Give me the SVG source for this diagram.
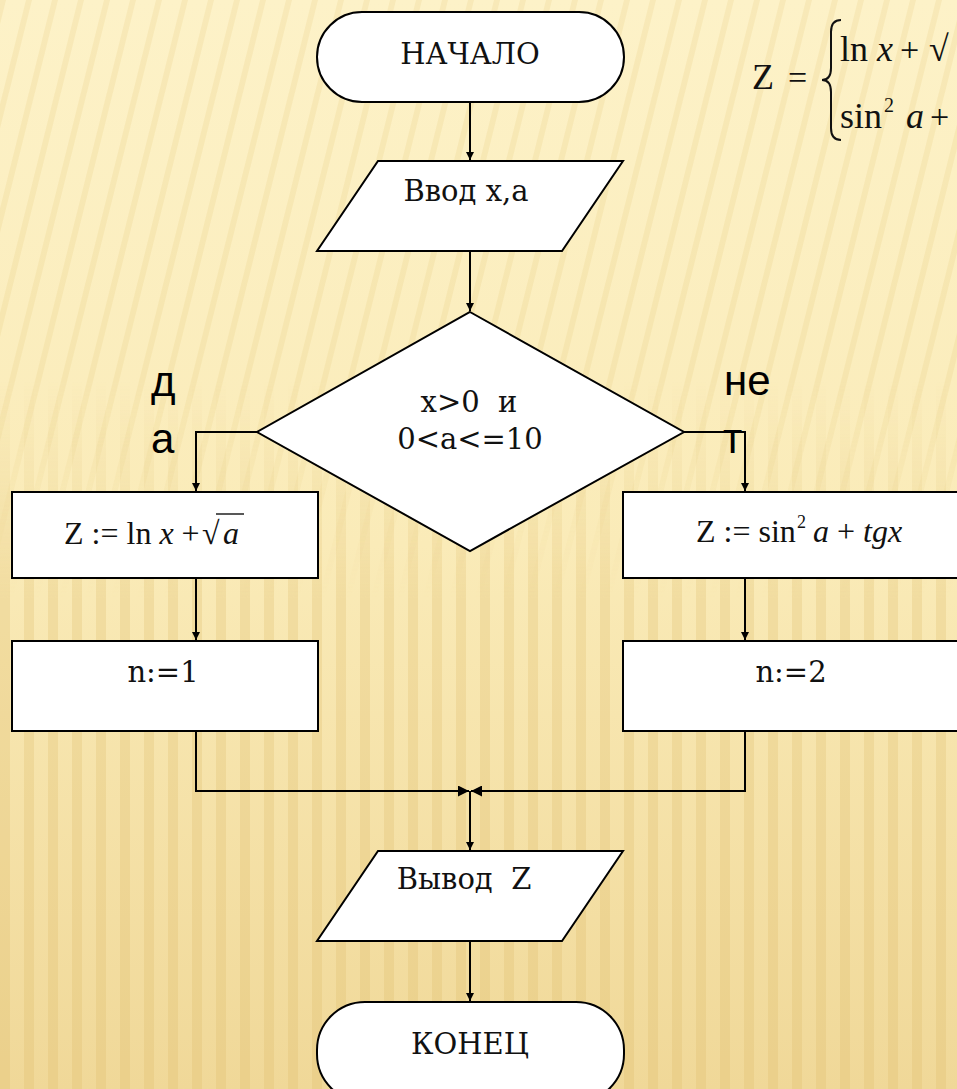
<svg xmlns="http://www.w3.org/2000/svg" width="957" height="1089" viewBox="0 0 957 1089">
<defs>
<linearGradient id="bg" x1="0" y1="0" x2="0" y2="1">
<stop offset="0" stop-color="#fdf2c8"/>
<stop offset="0.5" stop-color="#faebb8"/>
<stop offset="1" stop-color="#f0d898"/>
</linearGradient>
<linearGradient id="fadeTop" x1="0" y1="0" x2="0" y2="1">
<stop offset="0" stop-color="#fff"/>
<stop offset="0.35" stop-color="#fff"/>
<stop offset="0.55" stop-color="#000"/>
</linearGradient>
<linearGradient id="fadeBot" x1="0" y1="0" x2="0" y2="1">
<stop offset="0.35" stop-color="#000"/>
<stop offset="0.55" stop-color="#fff"/>
<stop offset="1" stop-color="#fff"/>
</linearGradient>
<mask id="mTop" maskUnits="userSpaceOnUse" x="0" y="0" width="957" height="1089"><rect width="957" height="1089" fill="url(#fadeTop)"/></mask>
<mask id="mBot" maskUnits="userSpaceOnUse" x="0" y="0" width="957" height="1089"><rect width="957" height="1089" fill="url(#fadeBot)"/></mask>
<pattern id="stripesA" width="26" height="40" patternUnits="userSpaceOnUse" patternTransform="skewX(-14)">
<rect x="0" y="0" width="6" height="40" fill="#e6c878" opacity="0.2"/>
</pattern>
<pattern id="stripesB" width="24" height="40" patternUnits="userSpaceOnUse">
<rect x="0" y="0" width="10" height="40" fill="#dcb862" opacity="0.25"/>
</pattern>
<marker id="arr" viewBox="0 0 10 10" refX="10" refY="5" markerWidth="8" markerHeight="8" markerUnits="userSpaceOnUse" orient="auto">
<path d="M0,0 L10,5 L0,10 z" fill="#000"/>
</marker>
<marker id="arrw" viewBox="0 0 10 10" refX="10" refY="5" markerWidth="11" markerHeight="11" markerUnits="userSpaceOnUse" orient="auto">
<path d="M0,0 L10,5 L0,10 z" fill="#000"/>
</marker>
</defs>
<style>
.shape{fill:#fff;stroke:#000;stroke-width:2}
.lbl{font-family:"DejaVu Serif","Liberation Serif",serif;font-size:29px;fill:#111;text-anchor:middle;white-space:pre}
.math{font-family:"Liberation Serif","Times New Roman",serif;fill:#111}
.it{font-style:italic}
.yn{font-family:"Liberation Sans",Arial,sans-serif;font-size:42px;fill:#000}
.conn{fill:none;stroke:#000;stroke-width:2}
</style>
<rect width="957" height="1089" fill="url(#bg)"/>
<rect width="957" height="1089" fill="url(#stripesA)" mask="url(#mTop)"/>
<rect width="957" height="1089" fill="url(#stripesB)" mask="url(#mBot)"/>

<g id="formula" class="math">
<text x="752" y="89" font-size="36">Z</text>
<text x="788" y="89" font-size="34">=</text>
<path d="M841,20 Q831,20 831,32 L831,68 Q831,80 822,80 Q831,80 831,92 L831,128 Q831,140 841,140" fill="none" stroke="#111" stroke-width="2"/>
<text x="840" y="61" font-size="36">ln</text>
<text x="877" y="61" font-size="36" class="it">x</text>
<text x="900" y="61" font-size="34">+</text>
<text x="929" y="61" font-size="36">√</text>
<text x="840" y="128" font-size="36">sin</text>
<text x="884" y="112" font-size="20">2</text>
<text x="906" y="128" font-size="36" class="it">a</text>
<text x="930" y="128" font-size="34">+</text>
</g>

<g id="start">
<rect class="shape" x="317" y="12" width="307" height="90" rx="45" ry="45"/>
<text class="lbl" x="470" y="64">НАЧАЛО</text>
</g>

<g id="input">
<polygon class="shape" points="378,161 623,161 562,251 317,251"/>
<text class="lbl" x="466" y="201">Ввод x,a</text>
</g>

<g id="decision">
<polygon class="shape" points="470,312 684,432 470,551 257,432"/>
<text class="lbl" x="469" y="412">x&gt;0  и</text>
<text class="lbl" x="470" y="449">0&lt;a&lt;=10</text>
</g>

<g id="calc1" class="math">
<rect class="shape" x="12" y="492" width="306" height="86"/>
<text x="64" y="544" font-size="32">Z := ln <tspan class="it">x</tspan> +</text>
<text x="202" y="544" font-size="32">√</text>
<text x="223" y="544" font-size="32" class="it">a</text>
<line x1="216" y1="514" x2="244" y2="514" stroke="#111" stroke-width="1.4"/>
</g>

<g id="calc2" class="math">
<rect class="shape" x="623" y="492" width="340" height="86"/>
<text x="696" y="542" font-size="32">Z := sin</text>
<text x="797" y="528" font-size="18">2</text>
<text x="813" y="542" font-size="32"><tspan class="it">a</tspan> + <tspan class="it">tgx</tspan></text>
</g>

<g id="n1">
<rect class="shape" x="12" y="641" width="306" height="90"/>
<text class="lbl" x="163" y="682">n:=1</text>
</g>

<g id="n2">
<rect class="shape" x="623" y="641" width="340" height="90"/>
<text class="lbl" x="791" y="682">n:=2</text>
</g>

<g id="output">
<polygon class="shape" points="378,851 623,851 562,941 317,941"/>
<text class="lbl" x="464" y="889">Вывод  Z</text>
</g>

<g id="end">
<rect class="shape" x="317" y="1002" width="307" height="100" rx="48" ry="48"/>
<text class="lbl" x="470" y="1054">КОНЕЦ</text>
</g>

<g id="labels">
<text class="yn" x="151" y="396">д</text>
<text class="yn" x="151" y="453">а</text>
<text class="yn" x="724" y="395">не</text>
<text class="yn" x="723" y="453">т</text>
</g>

<g id="connectors">
<line class="conn" x1="470" y1="102" x2="470" y2="160" marker-end="url(#arr)"/>
<line class="conn" x1="470" y1="251" x2="470" y2="311" marker-end="url(#arr)"/>
<polyline class="conn" points="257,432 196,432 196,491" marker-end="url(#arr)"/>
<polyline class="conn" points="684,432 745,432 745,491" marker-end="url(#arr)"/>
<line class="conn" x1="196" y1="578" x2="196" y2="640" marker-end="url(#arr)"/>
<line class="conn" x1="745" y1="578" x2="745" y2="640" marker-end="url(#arr)"/>
<polyline class="conn" points="196,731 196,791 469,791" marker-end="url(#arrw)"/>
<polyline class="conn" points="745,731 745,791 471,791" marker-end="url(#arrw)"/>
<line class="conn" x1="470" y1="791" x2="470" y2="850" marker-end="url(#arr)"/>
<line class="conn" x1="470" y1="941" x2="470" y2="1001" marker-end="url(#arr)"/>
</g>
</svg>
